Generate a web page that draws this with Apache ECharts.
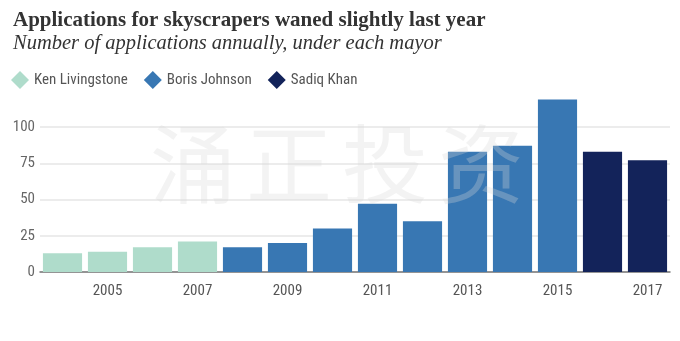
<!DOCTYPE html>
<html>
<head>
<meta charset="utf-8">
<script src="https://cdn.jsdelivr.net/npm/echarts@6/dist/echarts.min.js"></script>
<style>
  html, body { margin: 0; padding: 0; background: #fff; }
  #chart { width: 680px; height: 341px; }
</style>
</head>
<body>
<div id="chart"></div>
<script>
// Skyscraper applications per year, split by mayoral term
const years = ['2004','2005','2006','2007','2008','2009','2010','2011','2012','2013','2014','2015','2016','2017'];
const livingstone = [13, 14, 17, 21, '-', '-', '-', '-', '-', '-', '-', '-', '-', '-'];
const johnson     = ['-', '-', '-', '-', 17, 20, 30, 47, 35, 83, 87, 119, '-', '-'];
const khan        = ['-', '-', '-', '-', '-', '-', '-', '-', '-', '-', '-', '-', 83, 77];
const yTicks = [0, 25, 50, 75, 100];

const mayorNames = ['Ken Livingstone', 'Boris Johnson', 'Sadiq Khan'];
const mayorColors = ['#afdccb', '#3877b3', '#13235a'];
const mayorData = [livingstone, johnson, khan];

const chart = echarts.init(document.getElementById('chart'), null, { renderer: 'canvas' });

const oddYear = (idx) => idx % 2 === 1;

// Faint translucent watermark laid over the plot
const watermark = ['涌', '正', '投', '资'].map((ch, i) => ({
  type: 'text',
  left: 150 + i * 96,
  top: 121,
  silent: true,
  z: 100,
  style: {
    text: ch,
    font: '86px "Noto Sans CJK SC"',
    fill: 'rgba(215,215,215,0.3)'
  }
}));

chart.setOption({
  animation: false,
  title: [{
    text: 'Applications for skyscrapers waned slightly last year',
    left: 8,
    top: 5,
    textStyle: {
      fontFamily: '"Liberation Serif", serif',
      fontWeight: 'bold',
      fontSize: 21,
      color: '#333'
    }
  }, {
    text: 'Number of applications annually, under each mayor',
    left: 8,
    top: 29,
    textStyle: {
      fontFamily: '"Liberation Serif", serif',
      fontStyle: 'italic',
      fontWeight: 'normal',
      fontSize: 20.5,
      color: '#333'
    }
  }],
  legend: {
    left: 6,
    top: 66,
    icon: 'diamond',
    itemWidth: 18,
    itemHeight: 18,
    itemGap: 16,
    textStyle: {
      fontFamily: '"Liberation Sans Narrow", "Roboto Condensed", Roboto, sans-serif',
      fontSize: 15,
      color: '#555'
    },
    data: mayorNames
  },
  graphic: watermark,
  grid: {
    left: 40,
    right: 10,
    top: 98,
    bottom: 69
  },
  xAxis: {
    type: 'category',
    data: years,
    axisLine: { lineStyle: { color: '#777', width: 1.5 } },
    axisTick: {
      alignWithLabel: true,
      interval: oddYear,
      length: 6,
      lineStyle: { color: '#777' }
    },
    axisLabel: {
      interval: oddYear,
      margin: 12,
      fontFamily: '"Liberation Sans Narrow", "Roboto Condensed", Roboto, sans-serif',
      fontSize: 15,
      color: '#555'
    }
  },
  yAxis: {
    type: 'value',
    min: 0,
    max: 120,
    interval: 25,
    axisLine: { show: false },
    axisTick: { show: false },
    axisLabel: {
      showMaxLabel: false,
      margin: 5,
      fontFamily: '"Liberation Sans Narrow", "Roboto Condensed", Roboto, sans-serif',
      fontSize: 15,
      color: '#666',
      formatter: (v) => (yTicks.indexOf(v) >= 0 ? String(v) : '')
    },
    splitLine: {
      showMaxLine: false,
      lineStyle: { color: '#e6e6e6', width: 1.5 }
    }
  },
  series: mayorNames.map((name, i) => ({
    name: name,
    type: 'bar',
    stack: 'mayor',
    barCategoryGap: '13%',
    data: mayorData[i],
    itemStyle: { color: mayorColors[i] },
    z: 2
  }))
});
</script>
</body>
</html>
